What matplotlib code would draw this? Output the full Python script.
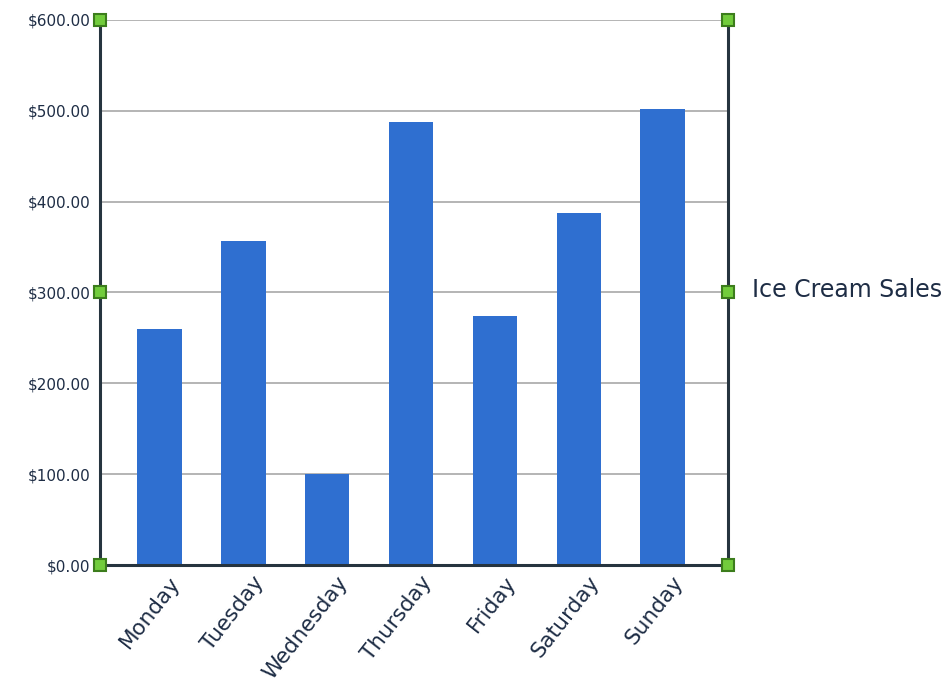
import matplotlib
matplotlib.use("Agg")
import matplotlib.pyplot as plt
from matplotlib.ticker import FuncFormatter
import matplotlib.transforms as mtransforms

days = ["Monday", "Tuesday", "Wednesday", "Thursday", "Friday", "Saturday", "Sunday"]
sales = [260, 357, 100, 488, 274, 388, 502]
yticks = [0, 100, 200, 300, 400, 500, 600]
series_name = "Ice Cream Sales"

text_color = "#1e2d45"
bar_color = "#2f6fd0"
spine_color = "#26343f"

plt.rcParams["font.family"] = ["DejaVu Sans"]

fig = plt.figure(figsize=(9.5, 6.96), dpi=100)
ax = fig.add_axes([0.1053, 0.1882, 0.6610, 0.7831])

x = list(range(len(days)))
ax.bar(x, sales, width=0.53, color=bar_color, zorder=3)

ax.set_xlim(-0.71, 6.78)
ax.set_ylim(0, 600)
ax.set_yticks(yticks)
ax.yaxis.set_major_formatter(FuncFormatter(lambda v, p: f"${v:,.2f}"))
ax.grid(axis="y", color="#a8a8a8", linewidth=1.2, zorder=0)
ax.set_axisbelow(True)

ax.spines["top"].set_visible(False)
for s in ["left", "bottom", "right"]:
    ax.spines[s].set_color(spine_color)
    ax.spines[s].set_linewidth(2.2)
    ax.spines[s].set_zorder(4)

ax.tick_params(axis="both", length=0, colors=text_color)
ax.tick_params(axis="x", pad=4)
ax.tick_params(axis="y", pad=7, labelsize=11)
ax.set_xticks(x)
ax.set_xticklabels(days, rotation=52, ha="right", rotation_mode="anchor",
                   fontsize=15.5, color=text_color)
offset = mtransforms.ScaledTranslation(9/100, -2/100, fig.dpi_scale_trans)
for lbl in ax.get_xticklabels():
    lbl.set_transform(lbl.get_transform() + offset)
for lbl in ax.get_yticklabels():
    lbl.set_color(text_color)

# selection handles on the plot frame
hx = [0, 0, 0, 1, 1, 1]
hy = [0, 0.5, 1, 0, 0.5, 1]
ax.plot(hx, hy, linestyle="none", marker="s", markersize=9,
        markerfacecolor="#72cc3c", markeredgecolor="#3c7d1c", markeredgewidth=1.5,
        transform=ax.transAxes, clip_on=False, zorder=6)

fig.text(752/950, 1 - 290/696, series_name, fontsize=17, color=text_color,
         ha="left", va="center")

fig.savefig("out.png", dpi=100, facecolor="white")
